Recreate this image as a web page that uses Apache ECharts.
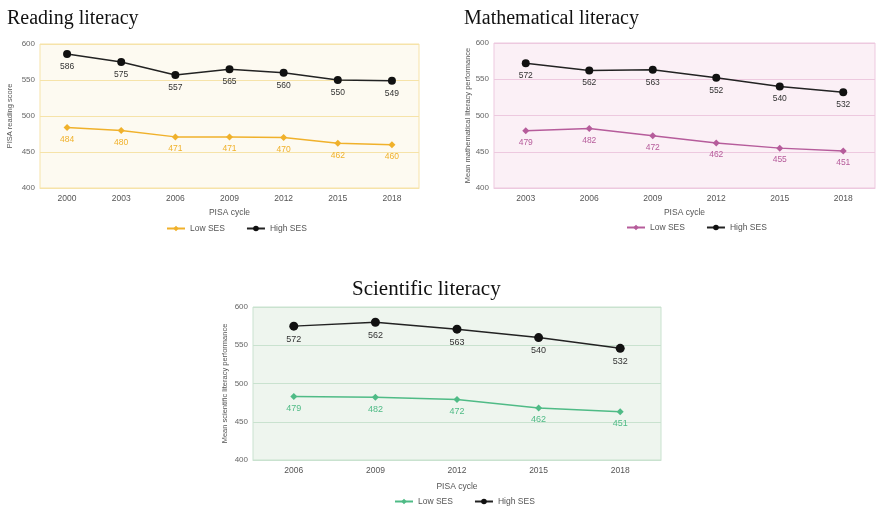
<!DOCTYPE html>
<html>
<head>
<meta charset="utf-8">
<script src="https://cdn.jsdelivr.net/npm/echarts@6/dist/echarts.min.js"></script>
<style>
html,body{margin:0;padding:0;background:#fff;width:881px;height:510px;overflow:hidden;}
.c{position:absolute;}
</style>
</head>
<body>
<div id="c1" class="c" style="left:0;top:0;width:440px;height:245px;"></div>
<div id="c2" class="c" style="left:440px;top:0;width:441px;height:245px;"></div>
<div id="c3" class="c" style="left:210px;top:265px;width:460px;height:245px;"></div>
<script>
// Reading literacy
const readYears = ['2000','2003','2006','2009','2012','2015','2018'];
const readLow = [484, 480, 471, 471, 470, 462, 460];
const readHigh = [586, 575, 557, 565, 560, 550, 549];
// Mathematical literacy
const mathYears = ['2003','2006','2009','2012','2015','2018'];
const mathLow = [479, 482, 472, 462, 455, 451];
const mathHigh = [572, 562, 563, 552, 540, 532];
// Scientific literacy (plotted positions, and printed labels as shown)
const sciYears = ['2006','2009','2012','2015','2018'];
const sciLow = [483, 482, 479, 468, 463];
const sciHigh = [575, 580, 571, 560, 546];
const sciLowLabels = ['479','482','472','462','451'];
const sciHighLabels = ['572','562','563','540','532'];
const yTicks = [400, 450, 500, 550, 600];

function build(cfg){
  const fmt = (labels) => labels ? (p => labels[p.dataIndex]) : (p => p.value);
  return {
    animation:false,
    textStyle:{fontFamily:'Liberation Sans, Arial, sans-serif'},
    title:{text:cfg.title,left:cfg.titleLeft,top:cfg.titleTop,
      textStyle:{fontFamily:'Liberation Serif, Times New Roman, serif',fontSize:cfg.titleSize,fontWeight:'normal',color:'#111'}},
    legend:{left:cfg.legendLeft,top:cfg.legendTop,itemWidth:18,itemHeight:7,itemGap:21,
      textStyle:{fontSize:8.5,color:'#555'},
      data:[{name:'Low SES'},{name:'High SES'}]},
    grid:{left:cfg.left,right:cfg.right,top:cfg.top,height:cfg.height,show:true,
      outerBoundsMode:'none',containLabel:false,
      backgroundColor:cfg.bg,borderColor:cfg.border,borderWidth:1},
    xAxis:{type:'category',data:cfg.years,boundaryGap:true,
      name:'PISA cycle',nameLocation:'middle',nameGap:cfg.xNameGap,nameMoveOverlap:false,
      nameTextStyle:{fontSize:8.5,color:'#555'},
      axisLine:{lineStyle:{color:cfg.border}},
      axisTick:{inside:true,length:cfg.tickLen,lineStyle:{color:cfg.tick}},
      axisLabel:{fontSize:8.5,color:'#555',margin:6}},
    yAxis:{type:'value',min:yTicks[0],max:yTicks[yTicks.length-1],interval:50,
      name:cfg.yName,nameLocation:'middle',nameGap:cfg.yNameGap,nameMoveOverlap:false,
      nameTextStyle:{fontSize:7.5,color:'#555'},
      axisLine:{show:false},axisTick:{show:false},
      axisLabel:{fontSize:8,color:'#666',margin:5},
      splitLine:{lineStyle:{color:cfg.grid,width:1}}},
    series:[
      {name:'Low SES',type:'line',data:cfg.low,symbol:'diamond',symbolSize:cfg.lowSym,
        lineStyle:{color:cfg.color,width:1.5},itemStyle:{color:cfg.color},
        label:{show:true,position:'bottom',distance:4,fontSize:cfg.lblSize,color:cfg.color,formatter:fmt(cfg.lowLabels)}},
      {name:'High SES',type:'line',data:cfg.high,symbol:'circle',symbolSize:cfg.highSym,
        lineStyle:{color:'#222',width:1.5},itemStyle:{color:'#111'},
        label:{show:true,position:'bottom',distance:4,fontSize:cfg.lblSize,color:'#333',formatter:fmt(cfg.highLabels)}}
    ]
  };
}

echarts.init(document.getElementById('c1')).setOption(build({
  title:'Reading literacy',titleLeft:2,titleTop:4,titleSize:20,
  legendLeft:161,legendTop:219,
  left:40,right:21,top:44,height:144,
  bg:'#fdfaf1',border:'#f6e3a9',grid:'#f6e3a9',tick:'#f0d690',tickLen:5,
  xNameGap:20,yName:'PISA reading score',yNameGap:26,
  years:readYears,low:readLow,high:readHigh,
  color:'#f0b12b',lowSym:7,highSym:8,lblSize:8.5
}));

echarts.init(document.getElementById('c2')).setOption(build({
  title:'Mathematical literacy',titleLeft:19,titleTop:4,titleSize:20,
  legendLeft:181,legendTop:218,
  left:54,right:6,top:43,height:145,
  bg:'#fbf0f6',border:'#edc9df',grid:'#edc9df',tick:'#e4b6d2',tickLen:5,
  xNameGap:20,yName:'Mean mathematical literacy performance',yNameGap:22,
  years:mathYears,low:mathLow,high:mathHigh,
  color:'#b65c9b',lowSym:7,highSym:8,lblSize:8.5
}));

echarts.init(document.getElementById('c3')).setOption(build({
  title:'Scientific literacy',titleLeft:137,titleTop:9,titleSize:21,
  legendLeft:179,legendTop:227,
  left:43,right:9,top:42,height:153,
  bg:'#eef5ee',border:'#c9e2cf',grid:'#c9e2cf',tick:'#ffffff',tickLen:7,
  xNameGap:22,yName:'Mean scientific literacy performance',yNameGap:24,
  years:sciYears,low:sciLow,high:sciHigh,lowLabels:sciLowLabels,highLabels:sciHighLabels,
  color:'#4fbb86',lowSym:7,highSym:9,lblSize:9
}));
</script>
</body>
</html>
